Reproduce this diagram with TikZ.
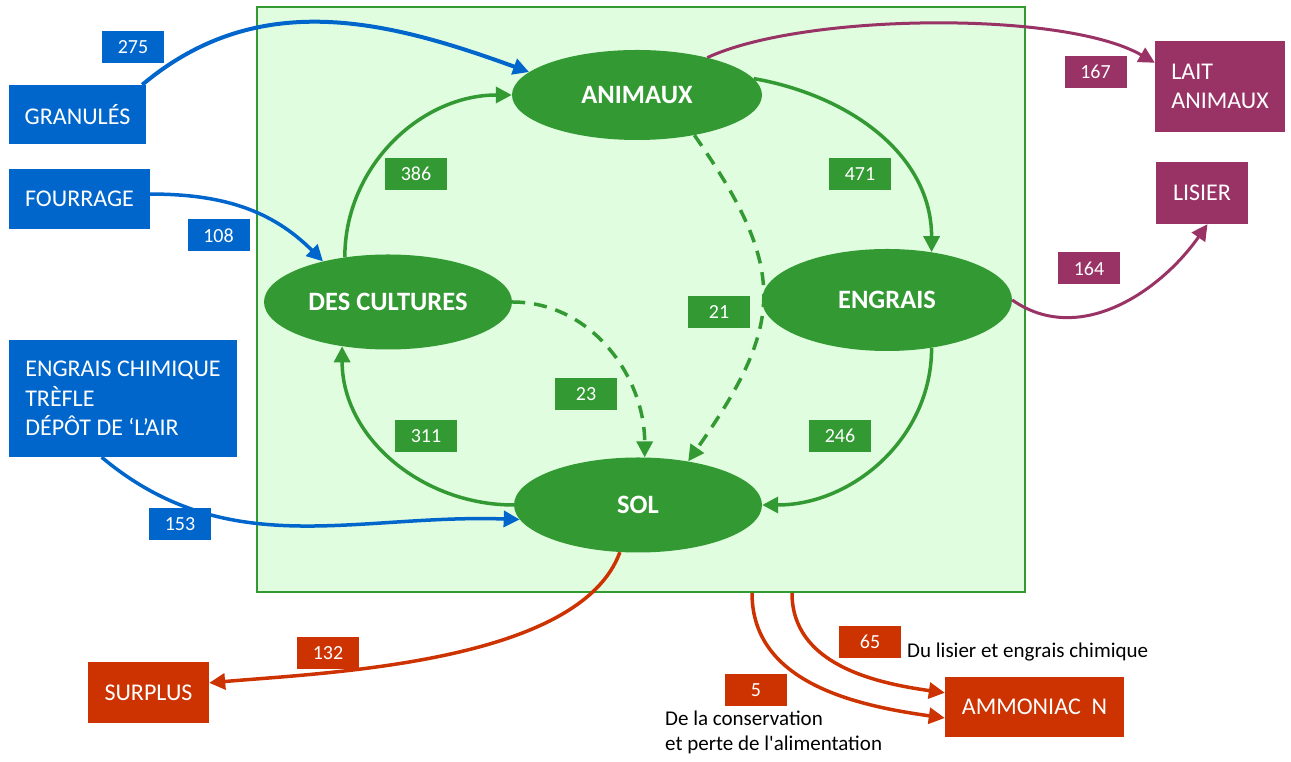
\documentclass[tikz,border=0pt]{standalone}
\usepackage{fontspec}
\setmainfont{Carlito}
\usetikzlibrary{arrows.meta,shapes.geometric}

\definecolor{bleu}{HTML}{0066CC}
\definecolor{vert}{HTML}{339933}
\definecolor{vertclair}{HTML}{E0FDDF}
\definecolor{prune}{HTML}{993366}
\definecolor{rouille}{HTML}{CC3300}

\begin{document}
\begin{tikzpicture}[x=1pt, y=1pt, >={Triangle[length=16pt, width=16pt]}]

    \tikzset{%
    every poste/.style={
        ellipse,
        fill=vert,
        text=white,
        inner sep=0pt,
        font=\fontsize{26.5}{30}\selectfont\bfseries
        },
    every boite/.style={
        rectangle,
        text=white,
        inner sep=0pt,
        font=\fontsize{24}{29.5}\selectfont
        },
    every valeur/.style={
        rectangle,
        text=white,
        inner sep=0pt,
        minimum width=62pt,
        minimum height=32pt,
        font=\fontsize{20}{24}\selectfont
        },
    flux/.style={line width=3.5pt, ->},
    perte/.style={flux, dash pattern=on 13pt off 9pt},
    }

    \useasboundingbox (0,0) rectangle (1291,762);

    % Ferme
    \node [draw=vert, fill=vertclair, line width=2pt, minimum width=768pt, minimum height=585pt, inner sep=0pt] (ferme) at (641,462.5) {};

    % Postes de la ferme
    \node [every poste/.try, minimum width=250pt, minimum height=90pt] (animaux) at (637,667) {ANIMAUX};
    \node [every poste/.try, minimum width=248pt, minimum height=95pt] (cultures) at (388,460) {DES CULTURES};
    \node [every poste/.try, minimum width=250pt, minimum height=102pt] (engrais) at (887,462) {ENGRAIS};
    \node [every poste/.try, minimum width=248pt, minimum height=95pt] (sol) at (638,257) {SOL};

    % Entrees
    \node [every boite/.try, fill=bleu, minimum width=137pt, minimum height=59pt] (granules) at (77.5,647.5) {GRANULÉS};
    \node [every boite/.try, fill=bleu, minimum width=141pt, minimum height=60pt] (fourrage) at (79.5,563) {FOURRAGE};
    \node [every boite/.try, fill=bleu, minimum width=228pt, minimum height=117pt, align=left] (chimique) at (123,363.5) {ENGRAIS CHIMIQUE\\TRÈFLE\\DÉPÔT DE ‘L’AIR};

    % Sorties
    \node [every boite/.try, fill=prune, minimum width=130pt, minimum height=91pt, align=left] (lait) at (1220,675.5) {LAIT\\ANIMAUX};
    \node [every boite/.try, fill=prune, minimum width=92pt, minimum height=62pt] (lisier) at (1202,569) {LISIER};
    \node [every boite/.try, fill=rouille, minimum width=121pt, minimum height=61pt] (surplus) at (148.5,69.5) {SURPLUS};
    \node [every boite/.try, fill=rouille, minimum width=179pt, minimum height=60pt] (ammoniac) at (1034.5,55) {AMMONIAC\ \ N};

    % Valeurs des flux
    \foreach \v/\x/\y/\c in {275/133/715/bleu, 108/218.5/526.5/bleu, 153/180/238/bleu,
        386/416/588/vert, 471/860/588/vert, 21/719/450/vert, 23/586/368/vert, 311/426/326/vert, 246/840/326/vert,
        167/1095.5/690/prune, 164/1089/493.5/prune,
        132/328/109/rouille, 65/870/120/rouille, 5/756/72/rouille}
    \node [every valeur/.try, fill=\c] (v-\v) at (\x,\y) {\v};

    % Notes
    \node [anchor=west, inner sep=0pt, font=\fontsize{21}{25}\selectfont] (note-65) at (907,110) {Du lisier et engrais chimique};
    \node [anchor=north west, inner sep=0pt, align=left, font=\fontsize{21}{25}\selectfont] (note-5) at (665,51) {De la conservation\\et perte de l\textquotesingle alimentation};

    % Flux entrants
    \draw [flux, bleu, line width=4pt] ([xshift=-4pt]granules.north east) to [out=40, in=160] (animaux.168);
    \draw [flux, bleu] (fourrage.4) to [out=0, in=135] (cultures.148);
    \draw [flux, bleu] (chimique.250) to [out=-40, in=178] (sol.187);

    % Flux internes
    \draw [flux, vert] (cultures.134) to [out=90, in=180] (animaux.west);
    \draw [flux, vert] (animaux.8) to [out=-10, in=90] (engrais.47);
    \draw [flux, vert] (sol.west) to [out=180, in=-90] (cultures.224);
    \draw [flux, vert] (engrais.313) to [out=-90, in=0] (sol.east);
    \draw [perte, vert] (animaux.-35) to [out=-55, in=55, looseness=1.3] (sol.41);
    \draw [perte, vert] (cultures.east) to [out=0, in=90] (sol.82);

    % Flux sortants
    \draw [flux, prune, line width=3pt] (animaux.28) to [out=25, in=150, looseness=0.6] (lait.160);
    \draw [flux, prune, line width=3pt] (engrais.east) to [out=-35, in=-125] (lisier.280);
    \draw [flux, rouille] (sol.249) to [out=-110, in=5, looseness=0.7] (surplus.9);

    % Pertes d'ammoniac
    \coordinate (fuite-65) at ([xshift=151pt]ferme.south);
    \coordinate (fuite-5) at ([xshift=111pt]ferme.south);
    \draw [flux, rouille] (fuite-65) to [out=-90, in=172] (ammoniac.171);
    \draw [flux, rouille] (fuite-5) to [out=-90, in=172] (ammoniac.187);

\end{tikzpicture}
\end{document}
